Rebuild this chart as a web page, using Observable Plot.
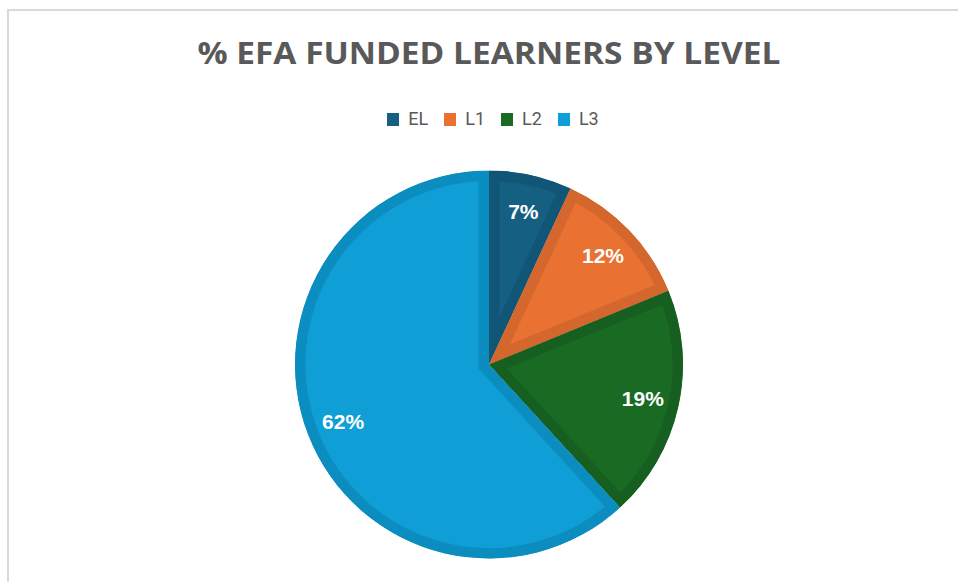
<!DOCTYPE html>
<html>
<head>
<meta charset="utf-8">
<script src="https://cdn.jsdelivr.net/npm/d3@7"></script>
<script src="https://cdn.jsdelivr.net/npm/@observablehq/plot@0.6"></script>
<style>
  html, body { margin: 0; padding: 0; background: #fff; overflow: hidden; }
  #frame { position: relative; width: 958px; height: 582px; overflow: hidden; }
  #border { position: absolute; left: 7px; top: 9px; width: 1000px; height: 600px;
            border-left: 2px solid #d9d9d9; border-top: 2px solid #d9d9d9; pointer-events: none; }
  .band { text-align: center; box-sizing: border-box; }
  #titleWrap { width: 978px; height: 70px; padding-top: 37px; }
  #title { display: inline-block; font-family: "Open Sans", Roboto, sans-serif; font-weight: 700;
           font-size: 31px; line-height: 31px; color: #595959; white-space: nowrap; transform-origin: center; }
  #legend { width: 986px; height: 70px; padding-top: 40px; display: flex; justify-content: center; align-items: flex-start; }
  #legend .item { display: flex; align-items: center; margin: 0 8px; height: 18px; }
  #legend .sw { width: 12px; height: 13px; margin-right: 9px; }
  #legend .lab { font-family: Roboto, "Liberation Sans", sans-serif; font-size: 18px; line-height: 18px; color: #595959; }
  #chart { position: relative; }
</style>
</head>
<body>
<div id="frame">
  <div id="border"></div>
  <div id="titleWrap" class="band"><span id="title"></span></div>
  <div id="legend" class="band"></div>
  <div id="chart"></div>
</div>
<script>
// ---- data ----
const titleText = "% EFA FUNDED LEARNERS BY LEVEL";
const categories = ["EL", "L1", "L2", "L3"];
const shares = [6.9, 11.9, 19.4, 61.8];
const colors = ["#156082", "#E97132", "#196B24", "#0F9ED5"];
const bandColors = ["#125677", "#D3672D", "#175F21", "#0C8DC0"];

// ---- derived ----
const total = d3.sum(shares);
const pieAngles = d3.pie().sort(null).startAngle(0).endAngle(2 * Math.PI)(shares);
const slices = categories.map((c, i) => ({
  category: c,
  value: shares[i],
  start: pieAngles[i].startAngle,
  end: pieAngles[i].endAngle,
  mid: (pieAngles[i].startAngle + pieAngles[i].endAngle) / 2,
  color: colors[i],
  band: bandColors[i],
  label: Math.round(shares[i] / total * 100) + "%"
}));

// ---- title ----
const titleEl = document.getElementById("title");
titleEl.textContent = titleText;
const tw = titleEl.getBoundingClientRect().width;
titleEl.style.transform = `scaleX(${583 / tw})`;

// ---- legend ----
const legend = document.getElementById("legend");
categories.forEach((c, i) => {
  const item = document.createElement("div");
  item.className = "item";
  const sw = document.createElement("span");
  sw.className = "sw";
  sw.style.background = colors[i];
  const lab = document.createElement("span");
  lab.className = "lab";
  lab.textContent = c;
  item.appendChild(sw);
  item.appendChild(lab);
  legend.appendChild(item);
});

// ---- pie mark (slices drawn from the data through the x/y scales) ----
function pieMark(index, scales, values, dimensions, context) {
  const x = scales.x, y = scales.y;
  const cx = x(0), cy = y(0), r = x(1) - x(0);
  const g = d3.create("svg:g").attr("transform", `translate(${cx},${cy})`);
  const arc = d3.arc().innerRadius(0).outerRadius(r);
  const defs = g.append("defs");
  slices.forEach((s, i) => {
    const d = arc({startAngle: s.start, endAngle: s.end});
    defs.append("clipPath").attr("id", "slice-clip-" + i).append("path").attr("d", d);
    g.append("path")
      .attr("d", d)
      .attr("fill", s.color)
      .attr("stroke", s.band)
      .attr("stroke-width", 21)
      .attr("stroke-linejoin", "miter")
      .attr("clip-path", `url(#slice-clip-${i})`);
  });
  return g.node();
}

const chart = Plot.plot({
  width: 958,
  height: 442,
  marginLeft: 295,
  marginRight: 275,
  marginTop: 31,
  marginBottom: 24,
  x: {domain: [-1, 1], axis: null},
  y: {domain: [-1, 1], axis: null},
  style: {background: "transparent", overflow: "visible"},
  marks: [
    pieMark,
    Plot.text(slices, {
      x: d => 0.81 * Math.sin(d.mid),
      y: d => 0.81 * Math.cos(d.mid),
      text: "label",
      fill: "white",
      fontSize: 21,
      fontWeight: "bold",
      fontFamily: "'Liberation Sans', Arial, sans-serif"
    })
  ]
});
document.getElementById("chart").appendChild(chart);
</script>
</body>
</html>
